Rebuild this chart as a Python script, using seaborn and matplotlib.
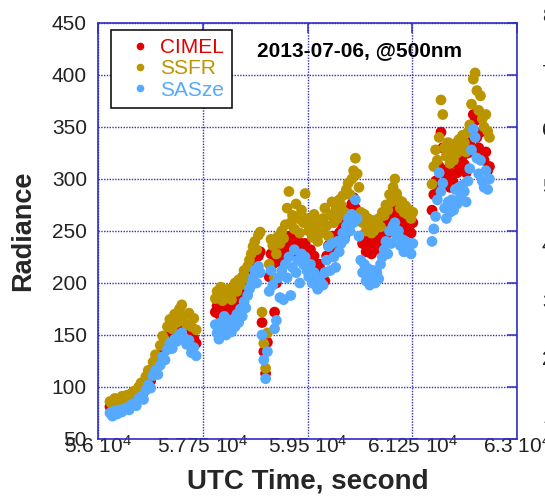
import numpy as np
import pandas as pd
import matplotlib
matplotlib.use("Agg")
import matplotlib.pyplot as plt
import seaborn as sns
from matplotlib.lines import Line2D

# ---- data -------------------------------------------------------------
series_names = ["CIMEL", "SSFR", "SASze"]
series_colors = ["#e00000", "#bb9500", "#55aaff"]

# sample times (UTC seconds) of the three stretches of measurements
time_a = np.arange(56200, 57641, 40)   # 37 samples
time_b = np.arange(57960, 61261, 30)   # 111 samples
time_c = np.arange(61580, 62541, 30)   # 33 samples

ssfr_a = [86, 83, 89, 85, 88, 91, 87, 92, 89, 94,
          96, 93, 100, 104, 101, 110, 116, 113, 124, 131,
          128, 140, 149, 145, 158, 165, 156, 170, 162, 175,
          179, 168, 160, 171, 158, 166, 155]
cimel_a = [81, 79, 83, 80, 84, 85, 81, 86, 84, 88,
           90, 87, 94, 97, 95, 104, 109, 106, 118, 124,
           120, 131, 139, 135, 147, 152, 145, 156, 150, 155,
           153, 148, 146, 152, 140, 147, 142]
sasze_a = [75, 72, 77, 74, 78, 76, 79, 80, 78, 83,
           84, 82, 89, 91, 88, 97, 102, 99, 111, 116,
           112, 121, 129, 126, 136, 142, 137, 146, 144, 150,
           152, 147, 141, 145, 133, 138, 130]

ssfr_b = [185, 192, 188, 196, 183, 190, 186, 194, 189, 184,
          195, 200, 192, 203, 198, 206, 212, 205, 216, 222,
          228, 235, 240, 232, 246, 249, 172, 142, 118, 152,
          218, 242, 236, 205, 228, 245, 238, 250, 243, 256,
          272, 288, 258, 265, 252, 276, 262, 248, 270, 258,
          286, 262, 250, 258, 244, 266, 252, 240, 258, 248,
          262, 272, 255, 245, 265, 278, 258, 270, 262, 280,
          275, 284, 268, 290, 296, 285, 300, 308, 320, 305,
          292, 268, 258, 266, 250, 262, 255, 248, 260, 252,
          258, 262, 254, 268, 265, 275, 270, 285, 278, 292,
          300, 286, 280, 272, 278, 268, 274, 266, 270, 262, 268]
cimel_b = [172, 178, 170, 181, 174, 176, 169, 180, 175, 171,
           180, 185, 178, 188, 186, 192, 197, 190, 202, 206,
           210, 216, 222, 212, 226, 230, 162, 134, 113, 143,
           206, 228, 218, 172, 200, 226, 220, 232, 226, 238,
           238, 245, 232, 240, 228, 242, 236, 225, 238, 230,
           238, 230, 222, 232, 215, 226, 210, 204, 218, 212,
           208, 202, 226, 236, 228, 245, 232, 240, 236, 248,
           250, 256, 245, 262, 270, 258, 276, 282, 272, 268,
           260, 245, 238, 244, 230, 240, 236, 228, 242, 232,
           236, 240, 232, 245, 250, 258, 248, 262, 255, 265,
           262, 270, 258, 264, 256, 250, 260, 252, 255, 248, 258]
sasze_b = [160, 152, 146, 162, 155, 168, 150, 158, 164, 153,
           165, 158, 170, 162, 175, 168, 182, 176, 188, 194,
           198, 205, 212, 200, 216, 210, 150, 126, 108, 134,
           192, 212, 198, 156, 164, 205, 186, 212, 184, 218,
           205, 225, 188, 215, 232, 210, 222, 200, 228, 218,
           225, 212, 206, 218, 200, 210, 198, 194, 205, 200,
           198, 210, 222, 235, 212, 238, 225, 215, 240, 230,
           238, 248, 242, 255, 262, 250, 266, 258, 280, 262,
           245, 222, 210, 218, 202, 214, 198, 206, 212, 200,
           210, 204, 218, 225, 232, 240, 228, 250, 238, 255,
           258, 245, 250, 236, 242, 230, 240, 232, 236, 228, 238]

ssfr_c = [295, 312, 328, 318, 340, 376, 362, 330, 322, 335, 315,
          328, 318, 334, 325, 338, 330, 342, 335, 326, 345, 352,
          372, 396, 402, 385, 366, 380, 358, 350, 362, 346, 340]
cimel_c = [270, 285, 298, 292, 312, 345, 330, 305, 298, 310, 292,
           302, 296, 315, 306, 318, 310, 322, 314, 306, 325, 335,
           348, 362, 356, 340, 330, 345, 322, 318, 326, 308, 312]
sasze_c = [240, 252, 264, 280, 306, 288, 296, 272, 262, 278, 268,
           280, 270, 290, 276, 292, 284, 294, 288, 278, 298, 310,
           328, 348, 340, 320, 305, 318, 298, 292, 308, 290, 300]

x_ticks = [56000, 57750, 59500, 61250, 63000]
x_tick_labels = ["5.6 10$\\mathregular{^{4}}$", "5.775 10$\\mathregular{^{4}}$",
                 "5.95 10$\\mathregular{^{4}}$", "6.125 10$\\mathregular{^{4}}$",
                 "6.3 10$\\mathregular{^{4}}$"]
y_ticks = [50, 100, 150, 200, 250, 300, 350, 400, 450]
side_labels = ["8", "7", "6", "5", "4", "3", "2", "1"]

title_text = "2013-07-06, @500nm"

# ---- long-form table --------------------------------------------------
times = np.concatenate([time_a, time_b, time_c])
values = {
    "CIMEL": cimel_a + cimel_b + cimel_c,
    "SSFR": ssfr_a + ssfr_b + ssfr_c,
    "SASze": sasze_a + sasze_b + sasze_c,
}
df = pd.concat(
    [pd.DataFrame({"time": times, "radiance": values[n], "instrument": n})
     for n in series_names],
    ignore_index=True,
)

# ---- style --------------------------------------------------------------
sns.set_style("white")
plt.rcParams["font.family"] = ["Liberation Sans", "DejaVu Sans"]
plt.rcParams["mathtext.fontset"] = "custom"
plt.rcParams["mathtext.rm"] = "Liberation Sans"

frame_blue = "#2f2fc4"
label_color = "#222222"

fig = plt.figure(figsize=(5.45, 4.96), dpi=100)
ax = fig.add_axes([98 / 545, 1 - 439 / 496, 419 / 545, 416 / 496])

sns.scatterplot(
    data=df, x="time", y="radiance", hue="instrument",
    hue_order=series_names, palette=dict(zip(series_names, series_colors)),
    s=60, linewidth=0, legend=False, ax=ax, zorder=3,
)

ax.set_xlim(56000, 63000)
ax.set_ylim(50, 450)
ax.set_xticks(x_ticks)
ax.set_xticklabels(x_tick_labels)
ax.set_yticks(y_ticks)

ax.set_axisbelow(True)
ax.grid(True, color=frame_blue, linestyle=(0, (1, 1)), linewidth=1.0)
for sp in ax.spines.values():
    sp.set_color(frame_blue)
    sp.set_linewidth(1.2)
ax.tick_params(axis="both", direction="in", length=7, width=1.1,
               color=frame_blue, labelcolor=label_color, labelsize=15,
               top=True, right=True)
ax.tick_params(axis="x", pad=-3)
ax.tick_params(axis="y", pad=8)

ax.set_xlabel("UTC Time, second", fontsize=20, fontweight="bold")
ax.set_ylabel("Radiance", fontsize=19.5, fontweight="bold")
ax.xaxis.set_label_coords(0.5, -0.071)
ax.yaxis.set_label_coords(-0.148, 0.5)

ax.text(0.623, 0.933, title_text, transform=ax.transAxes, ha="center",
        va="center", fontsize=15, fontweight="bold", color="black", zorder=5)

handles = [Line2D([], [], marker="o", linestyle="none", markersize=5.5,
                  markerfacecolor=c, markeredgewidth=0) for c in series_colors]
leg = ax.legend(handles, series_names, loc="upper left",
                bbox_to_anchor=(0.031, 0.983), borderaxespad=0, fontsize=15,
                frameon=True, fancybox=False, edgecolor="black", framealpha=1,
                borderpad=0.4, labelspacing=0.1, handlelength=1.99,
                handletextpad=-0.03)
leg.get_frame().set_linewidth(1.1)
leg.set_zorder(6)
for txt, c in zip(leg.get_texts(), series_colors):
    txt.set_color(c)

# tick labels of the neighbouring panel, cut by the figure edge
for k, lab in enumerate(side_labels):
    fig.text(542 / 545, 1 - (16 + 57.3 * k) / 496, lab, ha="left",
             va="center", fontsize=15, color=label_color)

fig.savefig("out.png", dpi=100)
